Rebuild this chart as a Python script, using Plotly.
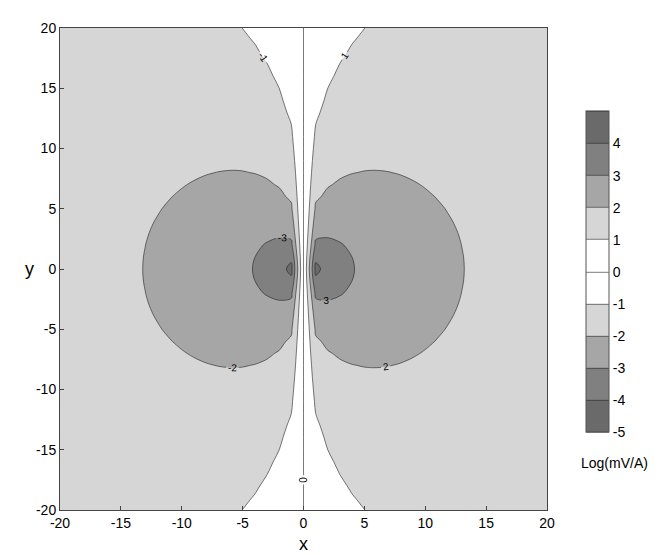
import numpy as np
import plotly.graph_objects as go

# Grid on which the field was sampled (1-unit spacing, read from the origin artefacts)
x_grid = list(range(-20, 21))
y_grid = list(range(-20, 21))

# Dipole-like field x/r^3; strength fixed by where the "2" contour meets the x axis
level2_crossing_x = 13.2
field_strength = 10 ** 2 * level2_crossing_x ** 2

# Contour levels and band colours (grayscale print)
levels = [-5, -4, -3, -2, -1, 0, 1, 2, 3, 4, 5]
band_colors = ["#6a6a6a", "#808080", "#a6a6a6", "#d6d6d6", "#ffffff",
               "#ffffff", "#d6d6d6", "#a6a6a6", "#808080", "#6a6a6a"]
cbar_ticks = [-5, -4, -3, -2, -1, 0, 1, 2, 3, 4]
cbar_ticktext = ["-5", "-4", "-3", "-2", "-1", "0", "1", "2", "3", "4"]
axis_ticks = [-20, -15, -10, -5, 0, 5, 10, 15, 20]
axis_ticktext = ["-20", "-15", "-10", "-5", "0", "5", "10", "15", "20"]

X, Y = np.meshgrid(np.array(x_grid, float), np.array(y_grid, float))
R3 = (X ** 2 + Y ** 2) ** 1.5
with np.errstate(divide="ignore", invalid="ignore"):
    mag = field_strength * np.abs(X) / R3
    Z = np.where(X == 0, 0.0, np.sign(X) * np.log10(mag))

# stepped colour scale
zmin, zmax = levels[0], levels[-1]
colorscale = []
for i, c in enumerate(band_colors):
    a = (levels[i] - zmin) / (zmax - zmin)
    b = (levels[i + 1] - zmin) / (zmax - zmin)
    colorscale.append([a, c])
    colorscale.append([b, c])

L, R, T, B = 52, 123, 15, 57
W, H = 662, 559
pw = W - L - R
ph = H - T - B
FONT = "Arial, Liberation Sans, sans-serif"

bar_top_px, bar_bot_px = 101, 422

fig = go.Figure(go.Contour(
    x=x_grid, y=y_grid, z=Z,
    zmin=zmin, zmax=zmax, zauto=False,
    colorscale=colorscale,
    contours=dict(start=-5, end=5, size=1, coloring="fill", showlabels=True,
                  labelfont=dict(size=10, color="black", family=FONT)),
    line=dict(color="#222222", width=0.6),
    colorbar=dict(
        x=1.0 + (578 - (W - R)) / pw, xanchor="left",
        y=(H - B - (bar_top_px + bar_bot_px) / 2) / ph, yanchor="middle",
        lenmode="pixels", len=bar_bot_px - bar_top_px, thickness=23, ypad=0, xpad=0,
        tickvals=cbar_ticks, ticktext=cbar_ticktext, ticks="", outlinewidth=1, outlinecolor="#555",
        tickfont=dict(size=14, family=FONT, color="black"),
    ),
))

axis_common = dict(range=[-20, 20], tickvals=axis_ticks, ticktext=axis_ticktext,
                   ticks="inside", ticklen=4,
                   showgrid=False, zeroline=False, showline=True, mirror=True,
                   linecolor="#444", linewidth=1,
                   tickfont=dict(size=14, family=FONT, color="black"))
fig.update_xaxes(**axis_common)
fig.update_yaxes(**axis_common)

fig.update_layout(
    width=W, height=H, margin=dict(l=L, r=R, t=T, b=B),
    paper_bgcolor="white", plot_bgcolor="white", showlegend=False,
    annotations=[
        dict(text="x", xref="paper", yref="paper", x=0.5, y=(H - B - 536) / ph,
             xanchor="center", yanchor="middle",
             showarrow=False, font=dict(size=18, family=FONT, color="black")),
        dict(text="y", xref="paper", yref="paper", x=(21 - L) / pw, y=(H - B - 258) / ph,
             xanchor="center", yanchor="middle",
             showarrow=False, font=dict(size=18, family=FONT, color="black")),
        dict(text="Log(mV/A)", xref="paper", yref="paper", x=(606 - L) / pw,
             y=(H - B - 455) / ph, xanchor="center", yanchor="middle",
             showarrow=False, font=dict(size=14, family=FONT, color="black")),
    ],
)

fig.write_html("out.html")
